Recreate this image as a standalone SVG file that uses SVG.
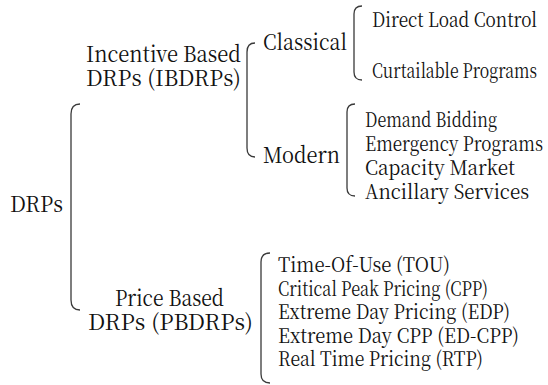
<svg xmlns="http://www.w3.org/2000/svg" width="548" height="385" viewBox="0 0 548 385" font-family="'Noto Serif CJK SC', serif">
<style>
text{font-family:'Noto Serif CJK SC','Noto Serif Display',serif;fill:#111}
.l{font-size:22px}
.i{font-size:20px}
.b{fill:none;stroke:#3a3a3a;stroke-width:1.3}
</style>
<rect width="548" height="385" fill="#fff"/>
<g id="connectors">
<path class="b" d="M80,104 Q71,104 71,114 L71,300 Q71,310 80,310"/>
<path class="b" d="M255,43 Q247,43 247,52 L247,148 Q247,157 255,157"/>
<path class="b" d="M362,6 Q354,6 354,14 L354,72 Q354,80 362,80"/>
<path class="b" d="M355,104 Q347,104 347,112 L347,188 Q347,196 355,196"/>
<path class="b" d="M270,253 Q261,253 261,262 L261,374 Q261,383 270,383"/>
</g>
<g id="root"><text class="l" x="10" y="212" textLength="53" lengthAdjust="spacingAndGlyphs">DRPs</text></g>
<g id="ibdrps"><text class="l" x="86" y="62" textLength="155" lengthAdjust="spacingAndGlyphs">Incentive Based</text><text class="l" x="86" y="86" textLength="155" lengthAdjust="spacingAndGlyphs">DRPs (IBDRPs)</text></g>
<g id="pbdrps"><text class="l" x="115" y="306" textLength="109" lengthAdjust="spacingAndGlyphs">Price Based</text><text class="l" x="88" y="330" textLength="165" lengthAdjust="spacingAndGlyphs">DRPs (PBDRPs)</text></g>
<g id="classical"><text class="l" x="263" y="50" textLength="84" lengthAdjust="spacingAndGlyphs">Classical</text></g>
<g id="modern"><text class="l" x="263" y="163" textLength="77" lengthAdjust="spacingAndGlyphs">Modern</text></g>
<g id="classical-items">
<text class="i" x="372" y="27" textLength="165" lengthAdjust="spacingAndGlyphs">Direct Load Control</text>
<text class="i" x="372" y="78" textLength="165" lengthAdjust="spacingAndGlyphs">Curtailable Programs</text>
</g>
<g id="modern-items">
<text class="i" x="365" y="127" textLength="132" lengthAdjust="spacingAndGlyphs">Demand Bidding</text>
<text class="i" x="365" y="151" textLength="178" lengthAdjust="spacingAndGlyphs">Emergency Programs</text>
<text class="i" x="365" y="175" textLength="150" lengthAdjust="spacingAndGlyphs">Capacity Market</text>
<text class="i" x="365" y="199" textLength="164" lengthAdjust="spacingAndGlyphs">Ancillary Services</text>
</g>
<g id="price-items">
<text class="i" x="278" y="272" textLength="172" lengthAdjust="spacingAndGlyphs">Time-Of-Use (TOU)</text>
<text class="i" x="278" y="295.5" textLength="210" lengthAdjust="spacingAndGlyphs">Critical Peak Pricing  (CPP)</text>
<text class="i" x="278" y="319" textLength="232" lengthAdjust="spacingAndGlyphs">Extreme Day Pricing  (EDP)</text>
<text class="i" x="278" y="342.5" textLength="241" lengthAdjust="spacingAndGlyphs">Extreme Day CPP (ED-CPP)</text>
<text class="i" x="278" y="366" textLength="205" lengthAdjust="spacingAndGlyphs">Real Time  Pricing (RTP)</text>
</g>
</svg>
